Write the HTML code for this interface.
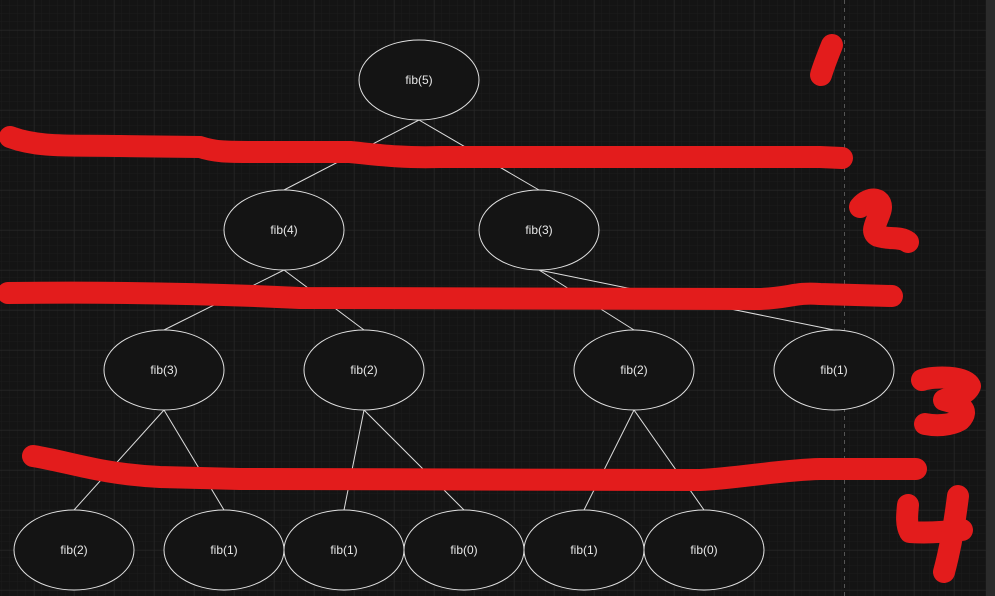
<!DOCTYPE html>
<html><head><style>
html,body{margin:0;padding:0;background:#141414;overflow:hidden}
svg{display:block}
text{font-family:"Liberation Sans",sans-serif;font-size:12px;fill:#e8e8e8}
</style></head><body>
<svg width="995" height="596" viewBox="0 0 995 596" xmlns="http://www.w3.org/2000/svg">
<defs>
<pattern id="mn" x="2" y="6" width="8" height="8" patternUnits="userSpaceOnUse"><path d="M8 0V8M0 8H8" stroke="#1c1c1c" stroke-width="1" fill="none"/></pattern>
<pattern id="mj" x="34.5" y="30.5" width="40" height="40" patternUnits="userSpaceOnUse"><path d="M0 0V40M0 0H40" stroke="#2a2a2a" stroke-width="1" fill="none"/></pattern>
</defs>
<rect width="995" height="596" fill="#141414"/>
<rect width="995" height="596" fill="url(#mn)"/>
<rect width="995" height="596" fill="url(#mj)"/>
<line x1="844.5" y1="0" x2="844.5" y2="596" stroke="#555" stroke-dasharray="4,4"/>
<rect x="986" y="0" width="9" height="596" fill="#2b2b2b"/>
<g stroke="#dddddd" stroke-width="1" fill="none">
<line x1="419" y1="120" x2="284" y2="190"/><line x1="419" y1="120" x2="539" y2="190"/>
<line x1="284" y1="270" x2="164" y2="330"/><line x1="284" y1="270" x2="364" y2="330"/>
<line x1="539" y1="270" x2="634" y2="330"/><line x1="539" y1="270" x2="834" y2="330"/>
<line x1="164" y1="410" x2="74" y2="510"/><line x1="164" y1="410" x2="224" y2="510"/>
<line x1="364" y1="410" x2="344" y2="510"/><line x1="364" y1="410" x2="464" y2="510"/>
<line x1="634" y1="410" x2="584" y2="510"/><line x1="634" y1="410" x2="704" y2="510"/>
</g>
<g stroke="#e0e0e0" stroke-width="1" fill="#141414">
<ellipse cx="419" cy="80" rx="60" ry="40"/>
<ellipse cx="284" cy="230" rx="60" ry="40"/><ellipse cx="539" cy="230" rx="60" ry="40"/>
<ellipse cx="164" cy="370" rx="60" ry="40"/><ellipse cx="364" cy="370" rx="60" ry="40"/>
<ellipse cx="634" cy="370" rx="60" ry="40"/><ellipse cx="834" cy="370" rx="60" ry="40"/>
<ellipse cx="74" cy="550" rx="60" ry="40"/><ellipse cx="224" cy="550" rx="60" ry="40"/>
<ellipse cx="344" cy="550" rx="60" ry="40"/><ellipse cx="464" cy="550" rx="60" ry="40"/>
<ellipse cx="584" cy="550" rx="60" ry="40"/><ellipse cx="704" cy="550" rx="60" ry="40"/>
</g>
<g text-anchor="middle">
<text x="419" y="84">fib(5)</text>
<text x="284" y="234">fib(4)</text><text x="539" y="234">fib(3)</text>
<text x="164" y="374">fib(3)</text><text x="364" y="374">fib(2)</text>
<text x="634" y="374">fib(2)</text><text x="834" y="374">fib(1)</text>
<text x="74" y="554">fib(2)</text><text x="224" y="554">fib(1)</text>
<text x="344" y="554">fib(1)</text><text x="464" y="554">fib(0)</text>
<text x="584" y="554">fib(1)</text><text x="704" y="554">fib(0)</text>
</g>
<g stroke="#e31c1c" stroke-width="22" stroke-linecap="round" stroke-linejoin="round" fill="none">
<path d="M10 137 C40 148 70 145 120 146 L200 147 C215 152 225 152 260 152 L350 152 C380 155 400 158 440 157 L820 157 L842 158"/>
<path d="M8 293 C100 292 200 293 300 298 L760 299 C790 298 795 292 820 294 L892 296"/>
<path d="M33 456 C70 462 100 474 160 477 L240 479 L700 480 C740 478 780 470 820 469 L916 469"/>
<path d="M832 45 C826 60 823 68 821 75"/>
<path d="M860 207 C870 195 885 198 880 212 C876 224 870 232 878 236 C890 240 900 236 908 242"/>
<path d="M922 380 C935 376 965 376 970 386 C966 396 950 398 944 400 C960 404 970 410 960 420 C950 426 935 426 925 424"/>
<path d="M908 505 C907 515 906 525 910 532 C925 533 945 532 962 530"/>
<path d="M958 496 C955 520 950 550 944 572"/>
</g>
</svg>
</body></html>
